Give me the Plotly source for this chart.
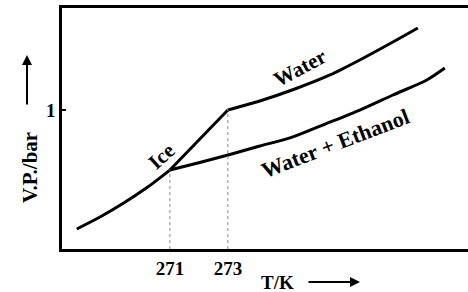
import plotly.graph_objects as go

# Data (temperature in K, vapour pressure in arbitrary units where 1 = 1 bar tick)
ice_T = [267.79, 268.59, 269.38, 270.21, 271.0, 273.0]
ice_P = [0.144, 0.230, 0.327, 0.442, 0.568, 1.0]

water_T = [273.0, 274.10, 275.31, 276.52, 277.55, 278.69, 279.55]
water_P = [1.0, 1.065, 1.151, 1.252, 1.360, 1.489, 1.590]

mix_T = [271.0, 272.03, 273.07, 274.10, 275.14, 276.35, 277.55, 278.69, 279.86, 280.48]
mix_P = [0.568, 0.622, 0.680, 0.741, 0.799, 0.899, 1.0, 1.108, 1.216, 1.302]

x_ticks = [271, 273]
x_tick_labels = ["271", "273"]
y_ticks = [1]
y_tick_labels = ["1"]

FONT = "Liberation Serif"

fig = go.Figure()
# ice curve below the triple point (smooth) and the straight part up to 273 K
fig.add_trace(go.Scatter(x=ice_T[:5], y=ice_P[:5], mode="lines",
                         line=dict(color="black", width=3, shape="spline", smoothing=0.8),
                         showlegend=False, hoverinfo="skip"))
fig.add_trace(go.Scatter(x=ice_T[4:], y=ice_P[4:], mode="lines",
                         line=dict(color="black", width=3),
                         showlegend=False, hoverinfo="skip"))
for T, P in [(water_T, water_P), (mix_T, mix_P)]:
    fig.add_trace(go.Scatter(x=T, y=P, mode="lines",
                             line=dict(color="black", width=3, shape="spline", smoothing=0.8),
                             showlegend=False, hoverinfo="skip"))

# dashed drop lines
for T, P in [(ice_T[4], ice_P[4]), (water_T[0], water_P[0])]:
    fig.add_trace(go.Scatter(x=[T, T], y=[0, P], mode="lines",
                             line=dict(color="#888888", width=1, dash="dot"),
                             showlegend=False, hoverinfo="skip"))

def lab(text, x, y, angle, size=21):
    fig.add_annotation(x=x, y=y, xref="x", yref="y", text=text, showarrow=False,
                       xanchor="center", yanchor="middle",
                       textangle=angle, font=dict(family=FONT, size=size, color="black", weight="bold"))

lab("Water", 275.48, 1.302, -28)
lab("Water + Ethanol", 276.69, 0.760, -21, 22)
lab("Ice", 270.72, 0.669, -42)

# axis titles with arrows
fig.add_annotation(xref="paper", yref="paper", x=(30 - 62) / 406, y=(249 - 168) / 241,
                   xanchor="center", yanchor="middle",
                   text="V.P./bar", textangle=-90, showarrow=False,
                   font=dict(family=FONT, size=21, color="black", weight="bold"))
fig.add_annotation(xref="paper", yref="paper", x=(27 - 62) / 406, y=(249 - 55) / 241,
                   ax=0, ay=51, axref="pixel", ayref="pixel",
                   text="", showarrow=True, arrowhead=2, arrowsize=1, arrowwidth=2, arrowcolor="black")
fig.add_annotation(xref="paper", yref="paper", x=(277 - 62) / 406, y=-(282 - 249) / 241,
                   xanchor="center", yanchor="middle",
                   text="T/K", showarrow=False,
                   font=dict(family=FONT, size=19, color="black", weight="bold"))
fig.add_annotation(xref="paper", yref="paper", x=(360 - 62) / 406, y=-(282 - 249) / 241,
                   ax=-53, ay=0, axref="pixel", ayref="pixel",
                   text="", showarrow=True, arrowhead=2, arrowsize=1, arrowwidth=2, arrowcolor="black")

fig.update_layout(
    width=468, height=292,
    margin=dict(l=62, r=0, t=8, b=43),
    paper_bgcolor="white", plot_bgcolor="white",
    xaxis=dict(range=[267.28, 281.28], showgrid=False, zeroline=False,
               showline=True, linecolor="black", linewidth=2.5, mirror=True,
               tickvals=x_ticks, ticktext=x_tick_labels, ticks="",
               tickfont=dict(family=FONT, size=19, color="black", weight="bold")),
    yaxis=dict(range=[0, 1.734], showgrid=False, zeroline=False,
               showline=True, linecolor="black", linewidth=2.5,
               tickvals=y_ticks, ticktext=y_tick_labels, ticks="inside", ticklen=4,
               tickcolor="black", tickwidth=1.5,
               tickfont=dict(family=FONT, size=19, color="black", weight="bold")),
)

fig.write_html("out.html", config={"displayModeBar": False},
               post_script="document.body.style.margin='0px';")
